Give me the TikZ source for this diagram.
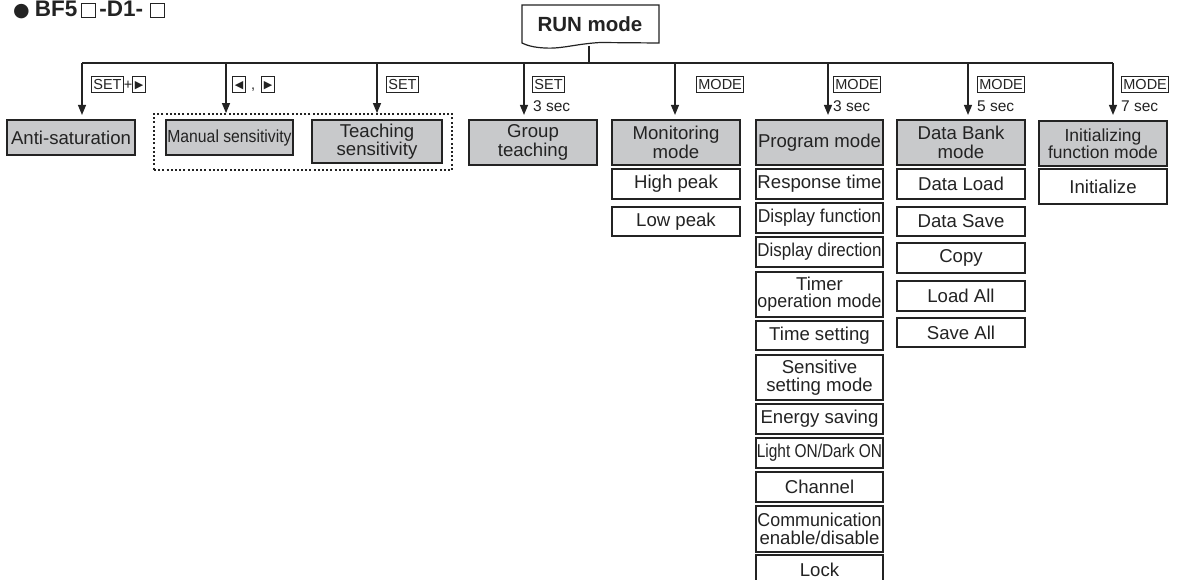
\documentclass[tikz,border=0pt]{standalone}
\usepackage{fontspec}
\setmainfont{Liberation Sans}
\newfontfamily\symf{DejaVu Sans}
\usepackage{graphicx}
\usetikzlibrary{arrows.meta}
\definecolor{boxgray}{RGB}{200,201,203}
\definecolor{ink}{RGB}{35,35,35}
\newcommand\keyb[1]{{\setlength\fboxsep{1.3pt}\setlength\fboxrule{0.9pt}\fbox{\rule[-1.6pt]{0pt}{12.4pt}#1}}}
\newcommand\keytri[1]{\keyb{\makebox[9.5pt]{\raisebox{0.3pt}{\symf\fontsize{11}{11}\selectfont #1}}}}
\newcommand\hsq{{\setlength\fboxsep{0pt}\setlength\fboxrule{1pt}\fbox{\rule{0pt}{12.5pt}\kern13pt}}}
\tikzset{
  every node/.style={font=\fontsize{18.6}{18.5}\selectfont, text=ink},
  gbox/.style={draw=ink, line width=1.15pt, fill=boxgray, inner sep=0pt, align=center, minimum width=128pt},
  wbox/.style={draw=ink, line width=1.15pt, fill=white, inner sep=0pt, align=center, minimum width=128pt},
  conn/.style={draw=ink, line width=1.25pt},
  arr/.style={conn, -{Triangle[length=10pt,width=8pt]}},
  keylbl/.style={font=\fontsize{14.5}{14.5}\selectfont, inner sep=0pt, anchor=base west},
  seclbl/.style={font=\fontsize{15.5}{15.5}\selectfont, inner sep=0pt, anchor=base west},
}
\begin{document}
\begin{tikzpicture}[x=1pt,y=-1pt]
\useasboundingbox (0,0) rectangle (1180,579);
\clip (0,0) rectangle (1180,579);
\fill[white] (0,0) rectangle (1180,579);

% title
\node[anchor=base west, inner sep=0pt, font=\bfseries\fontsize{22.5}{22.5}\selectfont] (title) at (13,16.5)
  {{\symf\mdseries\fontsize{19}{19}\selectfont ●}\hspace{5pt}BF5\hspace{4pt}\hsq\hspace{3pt}-D1-\hspace{7pt}\hsq};

% RUN mode
\draw[ink, line width=1.2pt, fill=white] (522,5) -- (659,5) -- (659,43) -- (600,42.5)
  .. controls (575,44) and (562,49) .. (545,48)
  .. controls (534,47.5) and (527,45.5) .. (522,43) -- cycle;
\node[font=\bfseries\fontsize{20.5}{20.5}\selectfont] (run) at (590,24.5) {RUN mode};
\coordinate (runbot) at (589,45.5);

% bus
\coordinate (b1) at (82,63);
\coordinate (b2) at (226,63);
\coordinate (b3) at (377,63);
\coordinate (b4) at (524,63);
\coordinate (b5) at (675,63);
\coordinate (b6) at (828,63);
\coordinate (b7) at (968,63);
\coordinate (b8) at (1113,63);
\draw[conn] (runbot) -- (runbot |- b1);
\draw[conn] (b1) -- (b8);

% top-level boxes
\node[gbox, minimum height=35pt] (anti) at (71,137.5) {Anti-saturation};
\node[draw=ink, line width=1.8pt, dash pattern=on 2pt off 2.2pt, minimum width=298pt, minimum height=56pt, inner sep=0pt] (grp) at (303,142) {};
\node[gbox, minimum width=127pt, minimum height=35pt, font=\fontsize{17.5}{17.5}\selectfont] (manual) at (229.5,137.5) {\scalebox{0.9}[1]{Manual sensitivity}};
\node[gbox, minimum width=130pt, minimum height=43pt] (teach) at (377,141.5) {Teaching\\sensitivity};
\node[gbox, minimum height=45pt] (group) at (533,142.5) {Group\\teaching};
\node[gbox, minimum height=45pt] (monitor) at (676,142.5) {Monitoring\\mode};
\node[gbox, minimum width=127pt, minimum height=45pt] (prog) at (819.5,142.5) {Program mode};
\node[gbox, minimum height=45pt] (bank) at (961,142.5) {Data Bank\\mode};
\node[gbox, minimum height=45pt, font=\fontsize{17.5}{16.5}\selectfont] (init) at (1103,143.5) {Initializing\\function mode};

% monitoring sub
\node[wbox, minimum height=30pt] (high) at (676,184) {High peak};
\node[wbox, minimum height=29pt] (low) at (676,221.5) {Low peak};

% program sub
\node[wbox, minimum width=127pt, minimum height=30pt] (resp) at (819.5,184) {Response time};
\node[wbox, minimum width=127pt, minimum height=30pt] (dispf) at (819.5,218) {\scalebox{0.94}[1]{Display function}};
\node[wbox, minimum width=127pt, minimum height=30pt] (dispd) at (819.5,252) {\scalebox{0.91}[1]{Display direction}};
\node[wbox, minimum width=127pt, minimum height=45pt, font=\fontsize{18.6}{17}\selectfont] (timer) at (819.5,294.5) {Timer\\\scalebox{0.96}[1]{operation mode}};
\node[wbox, minimum width=127pt, minimum height=29pt] (timeset) at (819.5,335.5) {Time setting};
\node[wbox, minimum width=127pt, minimum height=45pt, font=\fontsize{18.6}{17.5}\selectfont] (sens) at (819.5,377.5) {Sensitive\\setting mode};
\node[wbox, minimum width=127pt, minimum height=30pt] (energy) at (819.5,419) {Energy saving};
\node[wbox, minimum width=127pt, minimum height=30pt] (light) at (819.5,453) {\scalebox{0.83}[1]{Light ON/Dark ON}};
\node[wbox, minimum width=127pt, minimum height=30pt] (channel) at (819.5,487) {Channel};
\node[wbox, minimum width=127pt, minimum height=46pt, font=\fontsize{18.6}{17.5}\selectfont] (comm) at (819.5,529) {\scalebox{0.96}[1]{Communication}\\enable/disable};
\node[wbox, minimum width=127pt, minimum height=30pt] (lock) at (819.5,570) {Lock};

% data bank sub
\node[wbox, minimum height=30pt] (dload) at (961,184) {Data Load};
\node[wbox, minimum height=29pt] (dsave) at (961,221.5) {Data Save};
\node[wbox, minimum height=30pt] (copy) at (961,258) {Copy};
\node[wbox, minimum height=30pt] (loadall) at (961,296) {Load All};
\node[wbox, minimum height=29pt] (saveall) at (961,332.5) {Save All};

% init sub
\node[wbox, minimum height=35pt] (initialize) at (1103,186.5) {Initialize};

% arrows
\draw[arr, shorten >=4.5pt] (b1) -- (b1 |- anti.north);
\draw[arr] (b2) -- (b2 |- grp.north);
\draw[arr] (b3) -- (b3 |- grp.north);
\draw[arr, shorten >=4.5pt] (b4) -- (b4 |- group.north);
\draw[arr, shorten >=4.5pt] (b5) -- (b5 |- monitor.north);
\draw[arr, shorten >=4.5pt] (b6) -- (b6 |- prog.north);
\draw[arr, shorten >=4.5pt] (b7) -- (b7 |- bank.north);
\draw[arr, shorten >=5.5pt] (b8) -- (b8 |- init.north);

% key labels
\node[keylbl] (k1) at (91,89) {\keyb{SET}+\keytri{▶}};
\node[keylbl] (k2) at (232,89) {\keytri{◀}\hspace{5pt},\hspace{6pt}\keytri{▶}};
\node[keylbl] (k3) at (386,89) {\keyb{SET}};
\node[keylbl] (k4) at (532,89) {\keyb{SET}};
\node[seclbl] (s4) at (533,111) {3 sec};
\node[keylbl] (k5) at (696,89) {\keyb{MODE}};
\node[keylbl] (k6) at (833,89) {\keyb{MODE}};
\node[seclbl] (s6) at (833,111) {3 sec};
\node[keylbl] (k7) at (977,89) {\keyb{MODE}};
\node[seclbl] (s7) at (977,111) {5 sec};
\node[keylbl] (k8) at (1121,89) {\keyb{MODE}};
\node[seclbl] (s8) at (1121,111) {7 sec};
\end{tikzpicture}
\end{document}
